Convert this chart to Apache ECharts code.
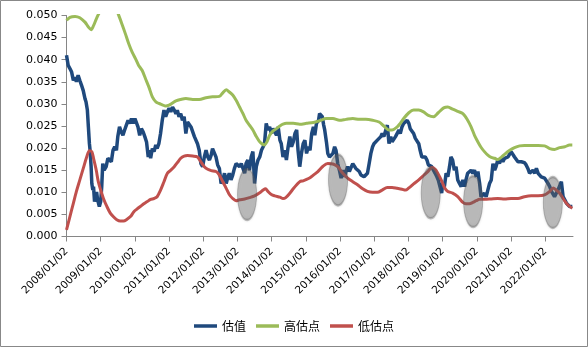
<!DOCTYPE html>
<html><head><meta charset="utf-8">
<script src="https://cdn.jsdelivr.net/npm/echarts@6/dist/echarts.min.js"></script>
<style>html,body{margin:0;padding:0;background:#fff}#c{width:588px;height:347px}</style>
</head><body><div id="c"></div>
<script>
// x values are decimal years
const yearTicks = [2008,2009,2010,2011,2012,2013,2014,2015,2016,2017,2018,2019,2020,2021,2022];

const valuation = [
[2008.00,.0410],[2008.05,.0387],[2008.10,.0380],[2008.15,.0372],[2008.20,.0353],[2008.25,.0360],[2008.29,.0350],[2008.34,.0365],[2008.39,.0353],[2008.44,.0342],[2008.49,.0330],[2008.54,.0312],[2008.57,.0305],[2008.61,.0286],[2008.64,.0248],[2008.67,.0210],[2008.69,.0195],[2008.72,.0158],[2008.74,.0120],[2008.77,.0105],[2008.79,.0113],[2008.82,.0079],[2008.86,.0090],[2008.88,.0101],[2008.91,.0083],[2008.96,.0068],[2009.00,.0079],[2009.03,.0113],[2009.06,.0165],[2009.10,.0150],[2009.16,.0158],[2009.21,.0177],[2009.26,.0180],[2009.31,.0169],[2009.36,.0195],[2009.41,.0203],[2009.46,.0195],[2009.50,.0226],[2009.55,.0248],[2009.60,.0237],[2009.65,.0229],[2009.70,.0241],[2009.75,.0252],[2009.80,.0263],[2009.85,.0256],[2009.90,.0267],[2009.95,.0256],[2010.00,.0267],[2010.05,.0263],[2010.09,.0248],[2010.14,.0229],[2010.19,.0244],[2010.24,.0237],[2010.29,.0226],[2010.34,.0214],[2010.39,.0180],[2010.43,.0195],[2010.46,.0177],[2010.51,.0199],[2010.56,.0192],[2010.61,.0207],[2010.65,.0199],[2010.70,.0210],[2010.75,.0233],[2010.80,.0263],[2010.85,.0286],[2010.90,.0271],[2010.95,.0282],[2011.00,.0290],[2011.05,.0282],[2011.10,.0293],[2011.15,.0286],[2011.20,.0278],[2011.24,.0286],[2011.29,.0271],[2011.34,.0278],[2011.39,.0263],[2011.44,.0271],[2011.49,.0233],[2011.54,.0259],[2011.59,.0263],[2011.64,.0248],
[2011.69,.0248],[2011.74,.0226],[2011.78,.0222],[2011.83,.0210],[2011.88,.0195],[2011.93,.0165],[2011.98,.0158],[2012.03,.0180],[2012.08,.0195],[2012.13,.0180],[2012.18,.0173],[2012.23,.0184],[2012.27,.0199],[2012.32,.0203],[2012.37,.0180],[2012.42,.0162],[2012.47,.0154],[2012.52,.0120],[2012.57,.0128],[2012.62,.0143],[2012.67,.0120],[2012.72,.0135],[2012.76,.0143],[2012.81,.0128],[2012.86,.0139],[2012.91,.0154],[2012.96,.0165],[2013.01,.0169],[2013.06,.0158],[2013.11,.0165],[2013.16,.0154],[2013.21,.0143],[2013.25,.0165],[2013.30,.0173],[2013.35,.0150],[2013.40,.0180],[2013.45,.0192],[2013.50,.0120],[2013.55,.0158],[2013.60,.0173],[2013.65,.0180],[2013.70,.0195],[2013.75,.0203],[2013.79,.0210],[2013.84,.0256],[2013.89,.0241],[2013.94,.0248],[2013.99,.0233],[2014.04,.0244],[2014.09,.0241],[2014.14,.0229],[2014.19,.0248],[2014.24,.0218],[2014.28,.0210],[2014.33,.0180],[2014.38,.0195],[2014.43,.0173],[2014.48,.0203],[2014.53,.0226],[2014.58,.0203],[2014.63,.0214],[2014.68,.0233],[2014.73,.0241],[2014.77,.0195],[2014.82,.0158],[2014.87,.0188],[2014.92,.0210],[2014.97,.0218],[2015.02,.0188],[2015.07,.0203],[2015.12,.0195],[2015.17,.0233],[2015.22,.0248],[2015.26,.0229],[2015.31,.0256],[2015.37,.0263],
[2015.40,.0278],[2015.45,.0282],[2015.48,.0271],[2015.52,.0252],[2015.55,.0241],[2015.60,.0214],[2015.64,.0188],[2015.69,.0180],[2015.74,.0177],[2015.79,.0188],[2015.84,.0203],[2015.88,.0195],[2015.93,.0165],[2015.98,.0150],[2016.03,.0132],[2016.08,.0150],[2016.13,.0135],[2016.17,.0147],[2016.22,.0158],[2016.27,.0147],[2016.32,.0143],[2016.37,.0165],[2016.41,.0169],[2016.46,.0154],[2016.51,.0150],[2016.56,.0147],[2016.61,.0139],[2016.66,.0143],[2016.70,.0135],[2016.75,.0139],[2016.80,.0143],[2016.85,.0165],[2016.90,.0188],[2016.95,.0203],[2016.99,.0210],[2017.04,.0207],[2017.09,.0218],[2017.14,.0214],[2017.19,.0226],[2017.23,.0233],[2017.28,.0226],[2017.33,.0229],[2017.38,.0252],[2017.43,.0210],[2017.48,.0226],[2017.52,.0214],[2017.57,.0218],[2017.62,.0226],[2017.67,.0229],[2017.72,.0241],[2017.76,.0233],[2017.81,.0248],[2017.86,.0256],[2017.91,.0252],[2017.96,.0263],[2018.01,.0256],[2018.05,.0244],[2018.10,.0248],[2018.15,.0233],[2018.20,.0222],[2018.25,.0218],[2018.30,.0210],[2018.34,.0195],[2018.39,.0180],[2018.44,.0177],[2018.49,.0180],[2018.54,.0173],[2018.58,.0162],[2018.63,.0158],[2018.68,.0158],[2018.73,.0150],[2018.78,.0143],[2018.83,.0135],[2018.87,.0128],[2018.92,.0113],[2018.97,.0098],
[2019.00,.0120],[2019.05,.0113],[2019.10,.0143],[2019.15,.0135],[2019.20,.0158],[2019.24,.0180],[2019.29,.0173],[2019.34,.0150],[2019.39,.0158],[2019.44,.0128],[2019.49,.0120],[2019.54,.0113],[2019.59,.0128],[2019.64,.0113],[2019.68,.0128],[2019.73,.0143],[2019.78,.0139],[2019.83,.0150],[2019.88,.0143],[2019.93,.0150],[2019.98,.0135],[2020.03,.0147],[2020.08,.0120],[2020.12,.0090],[2020.17,.0094],[2020.22,.0098],[2020.27,.0090],[2020.32,.0105],[2020.37,.0120],[2020.42,.0128],[2020.47,.0165],[2020.52,.0150],[2020.56,.0158],[2020.61,.0173],[2020.66,.0165],[2020.71,.0177],[2020.76,.0169],[2020.81,.0177],[2020.86,.0173],[2020.91,.0180],[2020.96,.0184],[2021.00,.0192],[2021.05,.0188],[2021.10,.0180],[2021.15,.0177],[2021.20,.0169],[2021.25,.0173],[2021.30,.0169],[2021.35,.0165],[2021.39,.0167],[2021.44,.0162],[2021.49,.0154],[2021.54,.0143],[2021.59,.0139],[2021.64,.0150],[2021.69,.0143],[2021.74,.0154],[2021.79,.0143],[2021.83,.0139],[2021.88,.0135],[2021.93,.0139],[2021.98,.0132],[2022.03,.0128],[2022.08,.0120],[2022.13,.0113],[2022.18,.0102],[2022.23,.0105],[2022.27,.0090],[2022.32,.0098],[2022.37,.0105],[2022.42,.0102],[2022.47,.0124],[2022.52,.0090],[2022.57,.0083],[2022.62,.0075],[2022.67,.0071],[2022.71,.0068],[2022.76,.0064],[2022.79,.0068]
];

const highPoint = [
[2008.00,.0489],[2008.10,.0496],[2008.25,.0498],[2008.39,.0495],[2008.54,.0485],[2008.64,.0474],[2008.72,.0468],[2008.79,.0477],[2008.87,.0492],[2008.93,.0502],[2009.10,.0525],[2009.30,.0535],[2009.45,.0515],[2009.52,.0502],[2009.62,.0481],[2009.72,.0459],[2009.82,.0436],[2009.92,.0417],[2010.02,.0402],[2010.11,.0387],[2010.21,.0376],[2010.31,.0357],[2010.41,.0338],[2010.51,.0316],[2010.61,.0305],[2010.70,.0301],[2010.80,.0298],[2010.90,.0295],[2011.00,.0297],[2011.10,.0302],[2011.20,.0307],[2011.34,.0310],[2011.49,.0312],
[2011.69,.0310],[2011.88,.0310],[2012.08,.0314],[2012.27,.0316],[2012.47,.0317],[2012.57,.0325],[2012.67,.0332],[2012.76,.0327],[2012.86,.0320],[2012.96,.0308],[2013.06,.0293],[2013.16,.0278],[2013.25,.0263],[2013.35,.0252],[2013.45,.0241],[2013.55,.0226],[2013.65,.0214],[2013.73,.0209],[2013.79,.0207],[2013.86,.0214],[2013.94,.0229],[2014.04,.0239],[2014.14,.0244],[2014.24,.0250],[2014.33,.0254],[2014.43,.0256],[2014.63,.0256],[2014.82,.0254],[2015.02,.0256],[2015.22,.0258],
[2015.40,.0262],[2015.60,.0267],[2015.79,.0267],[2015.98,.0263],[2016.17,.0265],[2016.37,.0267],[2016.56,.0265],[2016.75,.0265],[2016.95,.0263],[2017.14,.0259],[2017.28,.0250],[2017.43,.0241],[2017.52,.0241],[2017.67,.0248],[2017.76,.0256],[2017.86,.0267],[2018.01,.0280],[2018.15,.0286],[2018.30,.0286],[2018.44,.0282],[2018.58,.0274],[2018.73,.0271],[2018.87,.0280],[2019.03,.0291],
[2019.15,.0293],[2019.29,.0288],[2019.44,.0283],[2019.59,.0278],[2019.73,.0263],[2019.83,.0248],[2019.93,.0229],[2020.03,.0214],[2020.12,.0202],[2020.22,.0192],[2020.32,.0184],[2020.42,.0179],[2020.52,.0177],[2020.61,.0174],[2020.71,.0179],[2020.81,.0186],[2020.96,.0195],[2021.10,.0201],[2021.25,.0205],[2021.39,.0206],[2021.59,.0206],[2021.79,.0206],[2021.98,.0205],[2022.13,.0199],[2022.27,.0197],[2022.42,.0201],[2022.57,.0203],[2022.71,.0207],[2022.79,.0207]
];

const lowPoint = [
[2008.00,.0015],[2008.10,.0045],[2008.20,.0075],[2008.29,.0102],[2008.39,.0128],[2008.49,.0154],[2008.59,.0180],[2008.67,.0194],[2008.74,.0192],[2008.79,.0177],[2008.87,.0150],[2008.93,.0124],[2009.00,.0105],[2009.08,.0086],[2009.18,.0068],[2009.28,.0053],[2009.38,.0044],[2009.47,.0038],[2009.57,.0035],[2009.67,.0035],[2009.77,.0039],[2009.87,.0045],[2009.97,.0056],[2010.06,.0062],[2010.16,.0068],[2010.26,.0074],[2010.36,.0079],[2010.46,.0084],[2010.56,.0086],[2010.65,.0090],[2010.75,.0105],[2010.85,.0124],[2010.95,.0143],[2011.05,.0150],[2011.15,.0158],[2011.24,.0167],[2011.34,.0177],[2011.44,.0182],[2011.54,.0183],
[2011.69,.0182],[2011.83,.0180],[2011.93,.0169],[2012.03,.0158],[2012.13,.0152],[2012.23,.0149],[2012.37,.0147],[2012.47,.0139],[2012.57,.0124],[2012.67,.0109],[2012.76,.0095],[2012.86,.0086],[2012.96,.0081],[2013.06,.0083],[2013.21,.0085],[2013.35,.0088],[2013.50,.0092],[2013.65,.0099],[2013.75,.0105],[2013.82,.0108],[2013.89,.0102],[2013.99,.0095],[2014.09,.0092],[2014.24,.0089],[2014.33,.0086],[2014.41,.0088],[2014.53,.0098],[2014.63,.0108],[2014.73,.0117],[2014.82,.0124],[2014.92,.0126],[2015.02,.0129],[2015.12,.0133],[2015.22,.0139],
[2015.35,.0147],[2015.50,.0159],[2015.64,.0165],[2015.79,.0164],[2015.93,.0158],[2016.08,.0143],[2016.22,.0132],[2016.37,.0124],[2016.51,.0117],[2016.66,.0108],[2016.80,.0102],[2016.95,.0100],[2017.09,.0100],[2017.23,.0105],[2017.38,.0111],[2017.52,.0111],[2017.67,.0109],[2017.81,.0107],[2017.91,.0105],[2018.01,.0110],[2018.15,.0119],[2018.30,.0128],[2018.44,.0138],[2018.58,.0148],[2018.68,.0156],[2018.78,.0152],[2018.87,.0141],[2018.97,.0126],
[2019.05,.0111],[2019.15,.0102],[2019.29,.0098],[2019.44,.0090],[2019.59,.0077],[2019.68,.0074],[2019.78,.0074],[2019.88,.0077],[2019.98,.0081],[2020.08,.0084],[2020.22,.0084],[2020.42,.0085],[2020.61,.0086],[2020.81,.0085],[2021.00,.0086],[2021.20,.0086],[2021.39,.0090],[2021.59,.0092],[2021.79,.0092],[2021.98,.0094],[2022.13,.0102],[2022.23,.0110],[2022.32,.0105],[2022.42,.0098],[2022.52,.0086],[2022.62,.0075],[2022.71,.0068],[2022.79,.0064]
];

// highlighted low-valuation zones (center year, center value)
const zones = [[2013.28,.0095],[2015.94,.0128],[2018.65,.0099],[2019.89,.0079],[2022.22,.0077]];

const seriesNames = ['估值','高估点','低估点'];
const seriesColors = ['#1F497D','#9BBB59','#C0504D'];
const xMin = 2008, xMax = 2022.81;

const chart = echarts.init(document.getElementById('c'), null, {renderer:'canvas'});
const axisCol = '#868686';
chart.setOption({
  animation:false,
  backgroundColor:'#fff',
  graphic:[{type:'rect', shape:{x:0.5,y:0.5,width:587,height:346}, style:{fill:'none', stroke:'#888', lineWidth:1}, z:100}],
  grid:{left:66.5, right:15, top:15.5, bottom:110.5, containLabel:false},
  legend:{
    data:seriesNames, bottom:10, left:'center', icon:'rect', itemWidth:23, itemHeight:3.5, itemGap:10,
    textStyle:{fontFamily:'Noto Sans CJK SC', fontSize:12, color:'#000'}
  },
  xAxis:{
    type:'value', min:xMin, max:xMax, interval:1, splitLine:{show:false},
    axisLine:{lineStyle:{color:axisCol}},
    axisTick:{length:5, lineStyle:{color:axisCol}, customValues:yearTicks},
    axisLabel:{rotate:45, margin:13, padding:[12,0,0,0], interval:0, hideOverlap:false,
      color:'#000', fontFamily:'DejaVu Sans', fontSize:10.5,
      customValues:yearTicks, formatter:v=>Math.round(v)+'/01/02'}
  },
  yAxis:{
    type:'value', min:0, max:0.05, interval:0.005, splitLine:{show:false},
    axisLine:{show:true, lineStyle:{color:axisCol}},
    axisTick:{show:true, length:5, lineStyle:{color:axisCol}},
    axisLabel:{margin:9, color:'#000', fontFamily:'DejaVu Sans', fontSize:11, formatter:v=>v.toFixed(3)}
  },
  series:[
    {name:seriesNames[0], type:'line', data:valuation, showSymbol:false, lineStyle:{width:3.5, color:seriesColors[0]}, itemStyle:{color:seriesColors[0]}, clip:true},
    {name:seriesNames[1], type:'line', data:highPoint, smooth:0.3, showSymbol:false, lineStyle:{width:3, color:seriesColors[1]}, itemStyle:{color:seriesColors[1]}, clip:true},
    {name:seriesNames[2], type:'line', data:lowPoint, smooth:0.3, showSymbol:false, lineStyle:{width:3, color:seriesColors[2]}, itemStyle:{color:seriesColors[2]}, clip:true},
    {name:'zone', type:'scatter', data:zones, symbol:'circle', symbolSize:[19,51], z:5,
     itemStyle:{color:'rgba(110,110,110,0.48)', borderColor:'rgba(90,90,90,0.45)', borderWidth:1.5, shadowBlur:3, shadowColor:'rgba(0,0,0,0.25)'},
     emphasis:{disabled:true}, silent:true}
  ]
});
</script>
</body></html>
